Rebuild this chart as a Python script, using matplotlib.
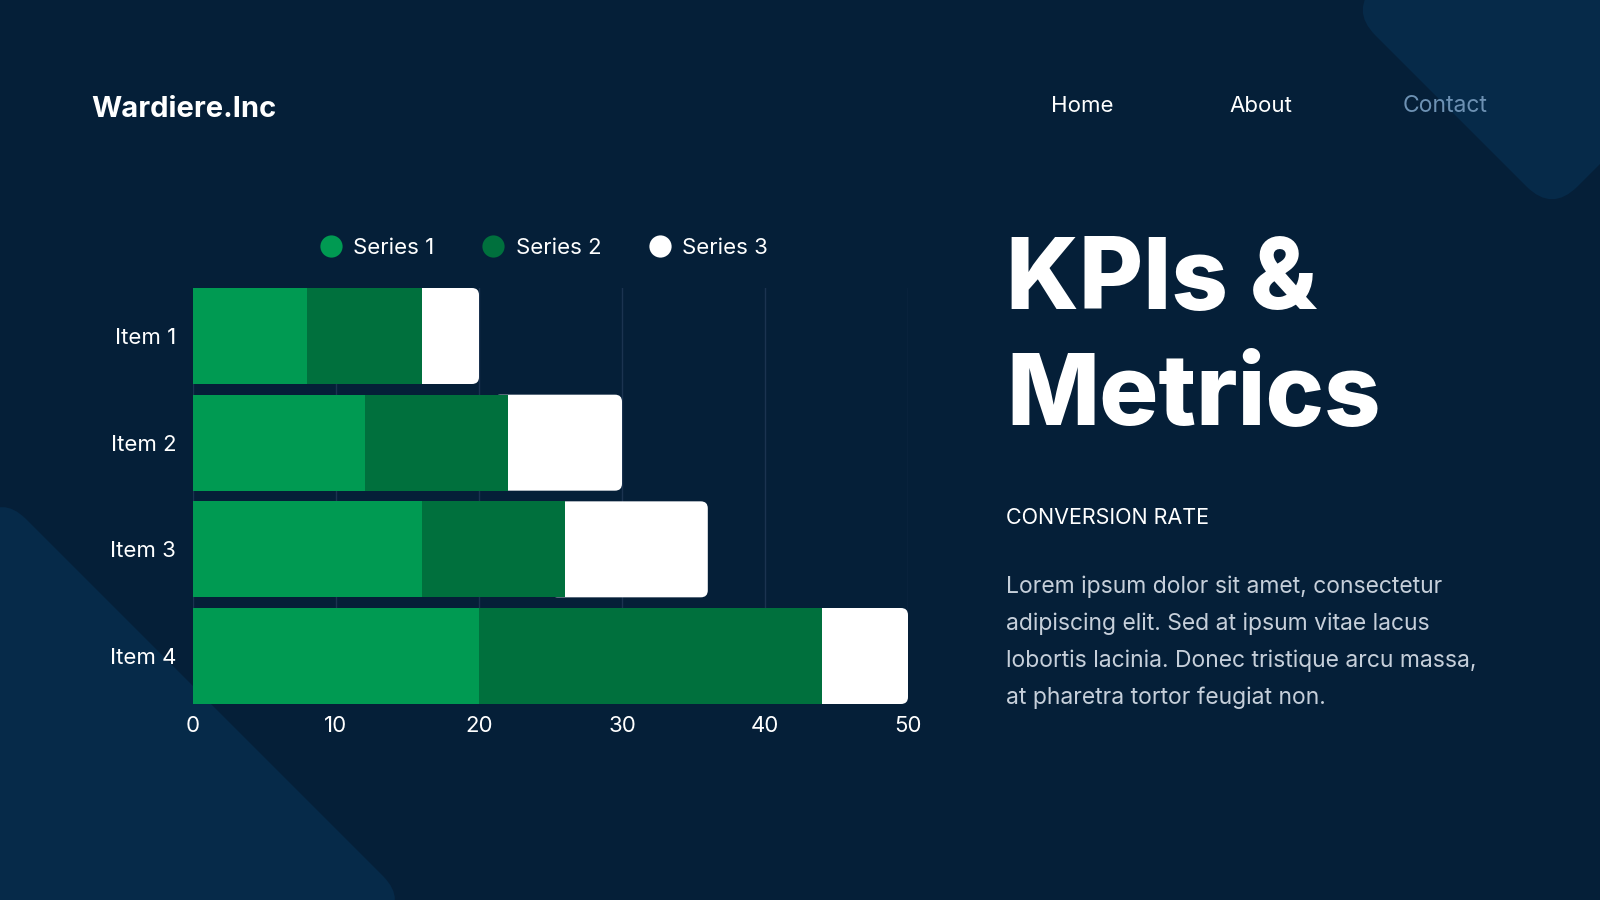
import numpy as np
import matplotlib.pyplot as plt
from matplotlib.patches import FancyBboxPatch
from matplotlib.lines import Line2D
from matplotlib.transforms import Affine2D

items = ["Item 1", "Item 2", "Item 3", "Item 4"]
series_names = ["Series 1", "Series 2", "Series 3"]
series1 = [8, 12, 16, 20]
series2 = [8, 10, 10, 24]
series3 = [4, 8, 10, 6]
xticks = [0, 10, 20, 30, 40, 50]

bg = '#051f38'
shape_c = '#062a49'
c1 = '#009a52'
c2 = '#00703d'
c3 = '#ffffff'
fam = ['Inter', 'DejaVu Sans']
plt.rcParams['font.family'] = fam

fig = plt.figure(figsize=(16, 9), dpi=100)
fig.patch.set_facecolor(bg)

# background layer in pixel coords (y down)
back = fig.add_axes([0, 0, 1, 1], zorder=-1)
back.set_xlim(0, 1600)
back.set_ylim(900, 0)
back.axis('off')

def diamond(cx, cy, d, r):
    s = d*np.sqrt(2)
    p = FancyBboxPatch((cx - s/2, cy - s/2), s, s,
                       boxstyle="round,pad=0,rounding_size=%g" % r,
                       fc=shape_c, ec='none')
    p.set_transform(Affine2D().rotate_deg_around(cx, cy, 45) + back.transData)
    back.add_patch(p)

diamond(1552, 10, 202, 36)
diamond(2, 900, 405, 34)

# header
back.text(91, 117, "Wardiere.Inc", color='white', fontsize=21, fontweight='bold', va='baseline')
back.text(1051, 112, "Home", color='white', fontsize=16, va='baseline')
back.text(1229, 112, "About", color='white', fontsize=16, va='baseline')
back.text(1403, 112, "Contact", color='#6d91b3', fontsize=16.5, va='baseline')

# right side text
back.text(1006, 309, "KPIs &", color='white', fontsize=71, fontweight='heavy', va='baseline')
back.text(1006, 425, "Metrics", color='white', fontsize=71, fontweight='heavy', va='baseline')
back.text(1006, 524, "CONVERSION RATE", color='white', fontsize=15.5, va='baseline')
para = ["Lorem ipsum dolor sit amet, consectetur",
        "adipiscing elit. Sed at ipsum vitae lacus",
        "lobortis lacinia. Donec tristique arcu massa,",
        "at pharetra tortor feugiat non."]
for i, line in enumerate(para):
    back.text(1006, 593 + 37*i, line, color='#c6cfda', fontsize=16.5, va='baseline')

# chart
ax = fig.add_axes([193/1600, 1 - 704/900, (908-193)/1600, (704-288)/900])
ax.set_facecolor('none')
y = np.arange(len(items))
h = 0.9
s1 = np.array(series1)
s2 = np.array(series2)
s3 = np.array(series3)
ax.barh(y, s1, height=h, color=c1, zorder=3)
ax.barh(y, s2, left=s1, height=h, color=c2, zorder=3)

# series 3 with rounded right end
xpx = (908-193)/50
ypx = (704-288)/3.9
r = 7/xpx
for yi, left, w in zip(y, s1 + s2, s3):
    p = FancyBboxPatch((left - 1, yi - h/2), w + 1, h,
                       boxstyle="round,pad=0,rounding_size=%g" % r,
                       mutation_aspect=xpx/ypx, fc=c3, ec='none', zorder=2.5)
    ax.add_patch(p)

ax.set_xlim(0, 50)
ax.set_ylim(3.45, -0.45)
ax.set_xticks(xticks)
ax.set_yticks(y)
ax.set_yticklabels(items)
ax.tick_params(length=0, colors='white', labelsize=16)
ax.tick_params(axis='x', pad=9)
ax.tick_params(axis='y', pad=12)
for s in ax.spines.values():
    s.set_visible(False)
ax.xaxis.grid(True, color='#1b3350', lw=1)
ax.set_axisbelow(True)

handles = [Line2D([], [], ls='none', marker='o', ms=16, mfc=c, mec='none')
           for c in (c1, c2, c3)]
leg = fig.legend(handles, series_names, loc='center', bbox_to_anchor=(544/1600, 1 - 248/900),
                 ncol=3, frameon=False, fontsize=16, handlelength=1.0, handletextpad=0.5,
                 columnspacing=2.15, labelcolor='white')

fig.savefig("out.png", dpi=100, facecolor=bg)
